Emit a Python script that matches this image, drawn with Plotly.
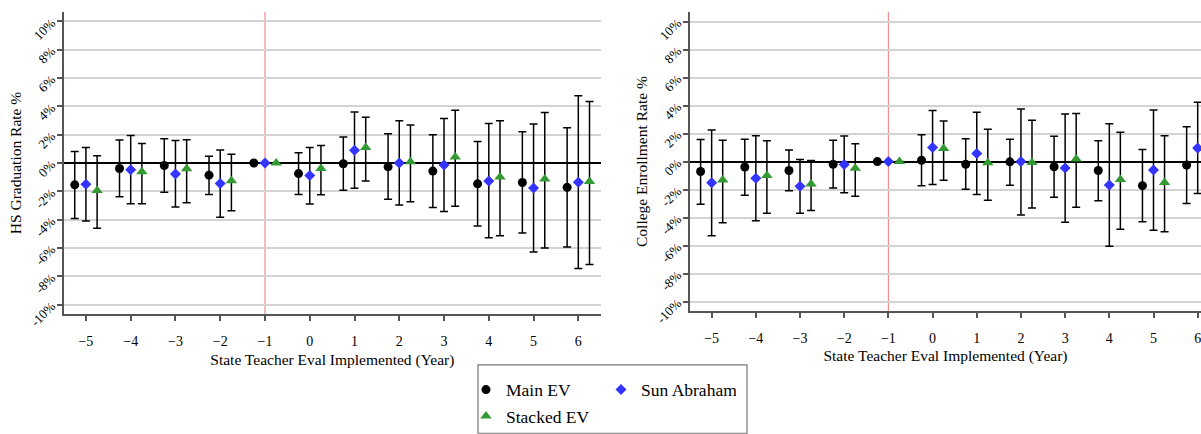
import plotly.graph_objects as go

# ---------------- data ----------------
events = [-5, -4, -3, -2, -1, 0, 1, 2, 3, 4, 5, 6]
tick_vals_y = [-10, -8, -6, -4, -2, 0, 2, 4, 6, 8, 10]
tick_text_y = ["-10%", "-8%", "-6%", "-4%", "-2%", "0%", "2%", "4%", "6%", "8%", "10%"]

# HS graduation rate (left panel)
hs_main = [-1.54, -0.39, -0.18, -0.86, 0, -0.75, -0.05, -0.27, -0.57, -1.47, -1.38, -1.72]
hs_main_lo = [-3.92, -2.38, -2.06, -2.22, 0, -2.22, -1.93, -2.56, -3.15, -4.44, -4.94, -5.93]
hs_main_hi = [0.81, 1.63, 1.72, 0.47, 0, 0.72, 1.83, 2.06, 1.99, 1.51, 2.21, 2.49]
hs_sa = [-1.50, -0.48, -0.77, -1.45, 0, -0.88, 0.90, 0.00, -0.14, -1.27, -1.77, -1.36]
hs_sa_lo = [-4.10, -2.88, -3.10, -3.83, 0, -2.90, -1.79, -2.97, -3.42, -5.27, -6.29, -7.45]
hs_sa_hi = [1.09, 1.94, 1.58, 0.92, 0, 1.10, 3.60, 2.99, 3.14, 2.78, 2.76, 4.75]
hs_st = [-1.95, -0.62, -0.40, -1.26, 0, -0.38, 1.09, 0.08, 0.43, -0.99, -1.13, -1.31]
hs_st_lo = [-4.60, -2.88, -2.81, -3.37, 0, -2.24, -1.27, -2.74, -3.06, -5.14, -6.00, -7.16]
hs_st_hi = [0.52, 1.38, 1.65, 0.61, 0, 1.24, 3.23, 2.69, 3.73, 2.99, 3.57, 4.34]

# College enrollment rate (right panel)
ce_main = [-0.71, -0.39, -0.64, -0.19, 0, 0.09, -0.19, -0.02, -0.37, -0.64, -1.72, -0.25]
ce_main_lo = [-3.05, -2.40, -2.08, -1.88, 0, -1.72, -1.97, -1.70, -2.54, -2.79, -4.30, -3.00]
ce_main_hi = [1.58, 1.60, 0.82, 1.53, 0, 1.92, 1.62, 1.60, 1.80, 1.48, 0.87, 2.49]
ce_sa = [-1.51, -1.19, -1.76, -0.21, 0, 1.00, 0.57, 0.00, -0.46, -1.67, -0.60, 0.96]
ce_sa_lo = [-5.29, -4.23, -3.69, -2.22, 0, -1.63, -2.36, -3.82, -4.33, -6.04, -4.90, -2.29]
ce_sa_hi = [2.26, 1.85, 0.14, 1.83, 0, 3.64, 3.52, 3.75, 3.40, 2.70, 3.68, 4.23]
ce_st = [-1.32, -1.00, -1.60, -0.48, 0, 0.94, -0.09, -0.07, 0.19, -1.28, -1.49, 0.60]
ce_st_lo = [-4.37, -3.69, -3.50, -2.47, 0, -1.33, -2.77, -3.32, -3.27, -4.83, -5.01, -2.20]
ce_st_hi = [1.53, 1.48, 0.07, 1.28, 0, 2.90, 2.31, 2.95, 3.43, 2.10, 1.85, 3.40]

series_names = ["Main EV", "Sun Abraham", "Stacked EV"]

# ---------------- style ----------------
FONT = "'Liberation Serif', 'Times New Roman', Times, serif"
BLUE = "#3434ff"
GREEN = "#339933"
offsets = [-0.25, 0.0, 0.25]
marker_styles = [
    dict(symbol="circle", size=9, color="black"),
    dict(symbol="diamond", size=8.5, color=BLUE),
    dict(symbol="triangle-up", size=10, color=GREEN),
]
legends = ["legend", "legend", "legend2"]

fig = go.Figure()


def add_panel(xa, ya, data, showlegend):
    for i, (vals, lo, hi) in enumerate(data):
        fig.add_trace(go.Scatter(
            x=[e + offsets[i] for e in events],
            y=vals,
            mode="markers",
            name=series_names[i],
            marker=marker_styles[i],
            error_y=dict(type="data", symmetric=False,
                         array=[h - v for h, v in zip(hi, vals)],
                         arrayminus=[v - l for v, l in zip(vals, lo)],
                         color="black", thickness=1.5, width=4),
            xaxis=xa, yaxis=ya,
            showlegend=showlegend,
            legend=legends[i],
            hoverinfo="skip",
        ))


add_panel("x", "y", [(hs_main, hs_main_lo, hs_main_hi),
                     (hs_sa, hs_sa_lo, hs_sa_hi),
                     (hs_st, hs_st_lo, hs_st_hi)], True)
add_panel("x2", "y2", [(ce_main, ce_main_lo, ce_main_hi),
                       (ce_sa, ce_sa_lo, ce_sa_hi),
                       (ce_st, ce_st_lo, ce_st_hi)], False)

W, H = 1201, 434
ML, MR, MT, MB = 64, 0, 12, 108
PW = W - ML - MR
PH = H - MT - MB

common_x = dict(
    tickvals=events, ticks="outside", ticklen=5, tickwidth=1.5, tickcolor="#555",
    showline=True, linecolor="#555", linewidth=1.8, showgrid=False, zeroline=False,
    tickfont=dict(family=FONT, size=14, color="black"),
    ticklabelstandoff=8, ticklabeloverflow="allow",
    title=dict(text="State Teacher Eval Implemented (Year)",
               font=dict(family=FONT, size=15.5, color="black"), standoff=6),
)
common_y = dict(
    range=[-10.66, 10.66], tickvals=tick_vals_y, ticktext=tick_text_y, tickangle=-45,
    ticks="outside", ticklen=5, tickwidth=1.5, tickcolor="#555",
    showline=True, linecolor="#555", linewidth=1.8,
    showgrid=True, gridcolor="#d3d3d3", gridwidth=1.5,
    zeroline=True, zerolinecolor="black", zerolinewidth=1.5,
    tickfont=dict(family=FONT, size=13, color="black"),
    ticklabelstandoff=3,
)

fig.update_layout(
    width=W, height=H,
    margin=dict(l=ML, r=MR, t=MT, b=MB),
    paper_bgcolor="white", plot_bgcolor="white",
    font=dict(family=FONT, color="black"),
    xaxis=dict(common_x, domain=[0, 536.7 / PW], range=[-5.49, 6.5], anchor="y"),
    xaxis2=dict(common_x, domain=[626 / PW, 1.0], range=[-5.49, 6.075], anchor="y2"),
    yaxis=dict(common_y, domain=[0, 1], anchor="x",
               title=dict(text="HS Graduation Rate %",
                          font=dict(family=FONT, size=15.5, color="black"), standoff=2)),
    yaxis2=dict(common_y, domain=[3.3 / PH, 1 - 0.3 / PH], anchor="x2",
                title=dict(text="College Enrollment Rate %",
                           font=dict(family=FONT, size=15.5, color="black"), standoff=2)),
    legend=dict(orientation="h", x=(466 - ML) / PW, xanchor="left",
                y=(PH + MT - 386) / PH, yanchor="top",
                font=dict(family=FONT, size=17.5, color="black"),
                bgcolor="rgba(0,0,0,0)", entrywidth=90, traceorder="normal"),
    legend2=dict(orientation="h", x=(466 - ML) / PW, xanchor="left",
                 y=(PH + MT - 413.5) / PH, yanchor="top",
                 font=dict(family=FONT, size=17.5, color="black"),
                 bgcolor="rgba(0,0,0,0)"),
    showlegend=True,
)

# reference-year vertical lines
for xr, yr in [("x", "y domain"), ("x2", "y2 domain")]:
    fig.add_shape(type="line", xref=xr, yref=yr, x0=-1, x1=-1, y0=0, y1=1,
                  line=dict(color="#f28b8b", width=1.2), layer="below")

# legend frame
fig.add_shape(type="rect", xref="paper", yref="paper",
              x0=(478 - ML) / PW, x1=(747 - ML) / PW,
              y0=(PH + MT - 379) / PH, y1=(PH + MT - 450) / PH,
              line=dict(color="#777", width=1.2), fillcolor="rgba(0,0,0,0)",
              layer="above")

fig.write_html("out.html")
